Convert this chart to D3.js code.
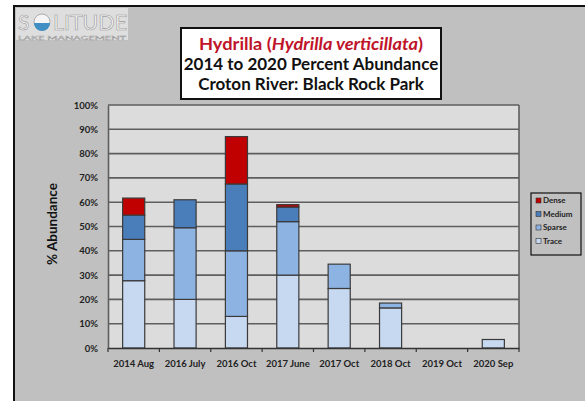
<!DOCTYPE html>
<html>
<head>
<meta charset="utf-8">
<script src="https://cdn.jsdelivr.net/npm/d3@7"></script>
<style>
  body { margin: 0; background: #fff; }
  svg text { font-family: Lato, "Open Sans", sans-serif; }
</style>
</head>
<body>
<svg id="chart" width="585" height="401"></svg>
<script>
// data (percent of each layer)
var categories = ["2014 Aug", "2016 July", "2016 Oct", "2017 June", "2017 Oct", "2018 Oct", "2019 Oct", "2020 Sep"];
var trace  = [27.7, 20, 13, 30, 24.5, 16.5, 0, 3.5];
var sparse = [17, 29.5, 27, 22, 10, 2, 0, 0];
var medium = [10, 11.5, 27.5, 6, 0, 0, 0, 0];
var dense  = [7, 0, 19.5, 1, 0, 0, 0, 0];
var seriesNames = ["Trace", "Sparse", "Medium", "Dense"];
var yTicks = [0, 10, 20, 30, 40, 50, 60, 70, 80, 90, 100];

var colors = {Trace: "#c6d9f1", Sparse: "#8db3e2", Medium: "#4a7ebb", Dense: "#c00000"};

var svg = d3.select("#chart");

// outer frame
svg.append("rect").attr("x", 14).attr("y", 6).attr("width", 580).attr("height", 400)
    .attr("fill", "#c0c0c0").attr("stroke", "#111").attr("stroke-width", 2);

// logo
var logo = svg.append("g");
logo.append("rect").attr("x", 16).attr("y", 8).attr("width", 112).attr("height", 32).attr("fill", "#dedede");
logo.append("text").attr("x", 18).attr("y", 30).text("S")
    .attr("font-size", 21).attr("fill", "#f4f4f4").attr("stroke", "#9a9a9a").attr("stroke-width", 0.6)
    .attr("font-family", "'DejaVu Sans', sans-serif");
logo.append("circle").attr("cx", 42).attr("cy", 22).attr("r", 8).attr("fill", "#f4f4f4").attr("stroke", "#9a9a9a").attr("stroke-width", 0.8);
logo.append("path").attr("d", "M34,23 A8,8 0 0 0 50,23 Z").attr("fill", "#3f8fc4");
logo.append("text").attr("x", 53).attr("y", 30).text("LITUDE")
    .attr("font-size", 21).attr("fill", "#f4f4f4").attr("stroke", "#9a9a9a").attr("stroke-width", 0.6)
    .attr("font-family", "'DejaVu Sans', sans-serif").attr("textLength", 74).attr("lengthAdjust", "spacingAndGlyphs");
logo.append("text").attr("x", 18).attr("y", 40).text("LAKE MANAGEMENT")
    .attr("font-size", 5).attr("fill", "#f4f4f4").attr("stroke", "#9a9a9a").attr("stroke-width", 0.3)
    .attr("textLength", 108).attr("lengthAdjust", "spacingAndGlyphs");

// plot area
var margin = {left: 108, top: 105, right: 519, bottom: 348};
var x = d3.scaleBand().domain(categories).range([margin.left, margin.right]).paddingInner(0.57).paddingOuter(0.285);
var xb = d3.scaleBand().domain(categories).range([margin.left, margin.right]);
var y = d3.scaleLinear().domain([0, 100]).range([margin.bottom, margin.top]);

svg.append("rect").attr("x", margin.left).attr("y", margin.top)
    .attr("width", margin.right - margin.left).attr("height", margin.bottom - margin.top)
    .attr("fill", "#dcdcdc");

// gridlines
svg.append("g").selectAll("line").data(yTicks.slice(1)).enter().append("line")
    .attr("x1", margin.left).attr("x2", margin.right)
    .attr("y1", function (d) { return y(d); }).attr("y2", function (d) { return y(d); })
    .attr("stroke", "#5e5e5e").attr("stroke-width", 1.6);

// right border of plot
svg.append("line").attr("x1", margin.right).attr("x2", margin.right)
    .attr("y1", margin.top).attr("y2", margin.bottom).attr("stroke", "#5e5e5e").attr("stroke-width", 1.6);

// stacked bars
var table = categories.map(function (c, i) {
    return {cat: c, Trace: trace[i], Sparse: sparse[i], Medium: medium[i], Dense: dense[i]};
});
var stacked = d3.stack().keys(seriesNames)(table);

svg.append("g").selectAll("g").data(stacked).enter().append("g")
    .attr("fill", function (d) { return colors[d.key]; })
    .selectAll("rect").data(function (d) { return d; }).enter()
    .filter(function (d) { return d[1] - d[0] > 0; })
    .append("rect")
        .attr("x", function (d) { return x(d.data.cat); })
        .attr("width", x.bandwidth())
        .attr("y", function (d) { return y(d[1]); })
        .attr("height", function (d) { return y(d[0]) - y(d[1]); })
        .attr("stroke", "#3a3a3a").attr("stroke-width", 1.2);

// y axis
var yAxis = d3.axisLeft(y).tickValues(yTicks).tickSize(0).tickPadding(10)
    .tickFormat(function (d) { return d + "%"; });
var gy = svg.append("g").attr("transform", "translate(" + margin.left + ",0)").call(yAxis);
gy.select(".domain").attr("stroke", "#5e5e5e").attr("stroke-width", 1.6);
gy.selectAll("text").attr("font-size", 9.5).attr("font-weight", "bold").attr("fill", "#222")
    .attr("font-family", "Lato, sans-serif");

// x axis
var xAxis = d3.axisBottom(xb).tickSize(0).tickPadding(12);
var gx = svg.append("g").attr("transform", "translate(0," + margin.bottom + ")").call(xAxis);
gx.select(".domain").attr("stroke", "#333").attr("stroke-width", 1.4);
gx.selectAll("text").attr("font-size", 9.5).attr("font-weight", "bold").attr("fill", "#222")
    .attr("font-family", "Lato, sans-serif");
// category dividers
svg.append("g").selectAll("line").data(categories.concat([null])).enter().append("line")
    .attr("x1", function (d, i) { return margin.left + i * xb.bandwidth(); })
    .attr("x2", function (d, i) { return margin.left + i * xb.bandwidth(); })
    .attr("y1", margin.bottom).attr("y2", margin.bottom + 4)
    .attr("stroke", "#333").attr("stroke-width", 1.2);

// y axis title
svg.append("text").attr("transform", "translate(57,224) rotate(-90)")
    .attr("text-anchor", "middle").attr("font-size", 13.5).attr("font-weight", "bold")
    .attr("fill", "#111").text("% Abundance");

// title box
svg.append("rect").attr("x", 181).attr("y", 28).attr("width", 260).attr("height", 71)
    .attr("fill", "#fff").attr("stroke", "#111").attr("stroke-width", 2);
var t1 = svg.append("text").attr("x", 311).attr("y", 50).attr("text-anchor", "middle")
    .attr("font-size", 17).attr("font-weight", "bold").attr("fill", "#c0142a")
    .attr("textLength", 224).attr("lengthAdjust", "spacingAndGlyphs");
t1.append("tspan").text("Hydrilla (");
t1.append("tspan").attr("font-style", "italic").text("Hydrilla verticillata");
t1.append("tspan").text(")");
svg.append("text").attr("x", 311).attr("y", 70).attr("text-anchor", "middle")
    .attr("font-size", 17).attr("font-weight", "bold").attr("fill", "#111")
    .text("2014 to 2020 Percent Abundance");
svg.append("text").attr("x", 311).attr("y", 90).attr("text-anchor", "middle")
    .attr("font-size", 17).attr("font-weight", "bold").attr("fill", "#111")
    .text("Croton River: Black Rock Park");

// legend
var legend = svg.append("g");
legend.append("rect").attr("x", 531).attr("y", 193).attr("width", 50).attr("height", 62)
    .attr("fill", "#c0c0c0").attr("stroke", "#111").attr("stroke-width", 1.2);
var legendKeys = seriesNames.slice().reverse();
var li = legend.selectAll("g.item").data(legendKeys).enter().append("g").attr("class", "item")
    .attr("transform", function (d, i) { return "translate(536," + (198 + i * 13.5) + ")"; });
li.append("rect").attr("width", 5).attr("height", 5)
    .attr("fill", function (d) { return colors[d]; }).attr("stroke", "#333").attr("stroke-width", 0.6);
li.append("text").attr("x", 7).attr("y", 5).attr("font-size", 8).attr("font-weight", "bold")
    .attr("fill", "#222").text(function (d) { return d; });
</script>
</body>
</html>
